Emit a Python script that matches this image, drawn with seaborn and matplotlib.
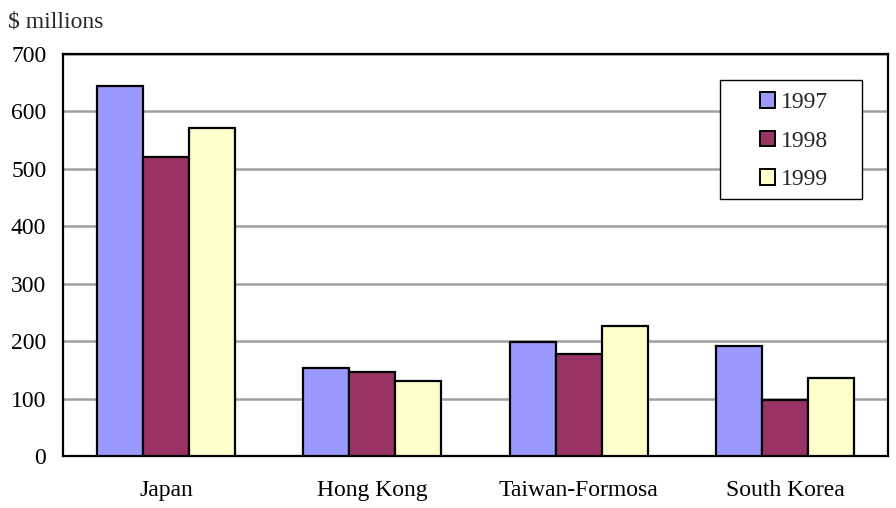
import matplotlib
matplotlib.use("Agg")
import matplotlib.pyplot as plt
from matplotlib.patches import Rectangle
import seaborn as sns
import pandas as pd

categories = ["Japan", "Hong Kong", "Taiwan-Formosa", "South Korea"]
years = ["1997", "1998", "1999"]
values_1997 = [644, 153, 198, 192]
values_1998 = [521, 146, 178, 97]
values_1999 = [571, 131, 226, 136]
colors = ["#9999FF", "#993366", "#FFFFCC"]

rows = []
for yr, vals in zip(years, [values_1997, values_1998, values_1999]):
    for c, v in zip(categories, vals):
        rows.append({"Market": c, "Year": yr, "Value": v})
df = pd.DataFrame(rows)

sns.set_theme(style="white")
plt.rcParams["font.family"] = ["Liberation Serif", "DejaVu Serif"]

W, H = 896, 508
fig = plt.figure(figsize=(8.96, 5.08), dpi=100)
ax = fig.add_axes([63 / W, 1 - 456 / H, 825 / W, 402 / H])

sns.barplot(data=df, x="Market", y="Value", hue="Year", palette=colors,
            width=0.67, gap=0, edgecolor="black", linewidth=1.6,
            errorbar=None, ax=ax, zorder=3, saturation=1)

ax.set_xlim(-0.5, 3.5)
ax.set_ylim(0, 700)
ax.set_yticks(range(0, 701, 100))
ax.yaxis.grid(True, color="#A0A0A0", linewidth=1.8, zorder=0)
ax.set_axisbelow(True)
ax.set_xlabel("")
ax.set_ylabel("")
for s in ax.spines.values():
    s.set_color("black")
    s.set_linewidth(1.6)
ax.tick_params(axis="both", labelsize=17, colors="black", length=0)
ax.tick_params(axis="x", pad=17)
ax.tick_params(axis="y", pad=12)

# legend box
ax.add_patch(Rectangle((720 / W, 1 - 199 / H), 142 / W, 119 / H,
                       transform=fig.transFigure, facecolor="white",
                       edgecolor="black", linewidth=1.0, zorder=5,
                       clip_on=False))
leg = ax.legend(loc="upper left", bbox_to_anchor=(760 / W, 1 - 92 / H),
                bbox_transform=fig.transFigure,
                fontsize=17, frameon=False,
                handlelength=0.65, handleheight=0.65, handletextpad=0.25,
                labelspacing=0.74, borderpad=0, borderaxespad=0)
leg.set_zorder(6)
for h in leg.legend_handles:
    h.set_edgecolor("black")
    h.set_linewidth(1.4)

fig.text(8 / W, 1 - 22 / H, "$ millions", fontsize=17, va="center", ha="left")
fig.text(0.641, 1 + 7.5 / H, "Leading Export Markets", fontsize=22, va="baseline", ha="center")

fig.savefig("out.png", dpi=100)
